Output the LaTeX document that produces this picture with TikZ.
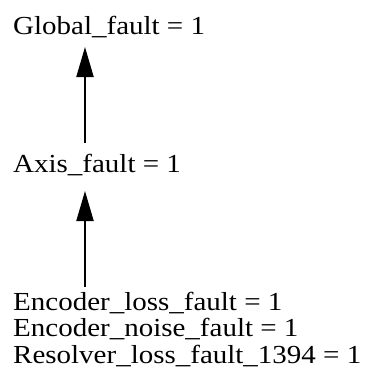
\documentclass[tikz,border=0pt]{standalone}
\usepackage{fontspec}
\setmainfont{Liberation Serif}
\usetikzlibrary{arrows.meta}
\begin{document}
\begin{tikzpicture}[x=1pt,y=1pt,
  lbl/.style={anchor=base west,inner sep=0pt,font=\fontsize{26}{30}\selectfont},
  arr/.style={line width=2pt,-{Triangle[length=30pt,width=17pt]}}]
\useasboundingbox (0,0) rectangle (368,-388);
\node[lbl] (global) at (13,-34) {\scalebox{1.115}[1]{Global\_fault = 1}};
\node[lbl] (axis) at (13,-172) {\scalebox{1.115}[1]{Axis\_fault = 1}};
\node[lbl] (enc1) at (13,-310) {\scalebox{1.115}[1]{Encoder\_loss\_fault = 1}};
\node[lbl] (enc2) at (13,-336.5) {\scalebox{1.115}[1]{Encoder\_noise\_fault = 1}};
\node[lbl] (res) at (13,-363) {\scalebox{1.115}[1]{Resolver\_loss\_fault\_1394 = 1}};
\coordinate (a1s) at ([xshift=72pt]axis.base west);
\coordinate (g1e) at ([xshift=72pt]global.base west);
\coordinate (e1s) at ([xshift=72pt]enc1.base west);
\draw[arr] ([yshift=29pt]a1s) -- ([yshift=-13pt]g1e);
\draw[arr] ([yshift=23pt]e1s) -- ([yshift=-19pt]a1s);
\end{tikzpicture}
\end{document}
